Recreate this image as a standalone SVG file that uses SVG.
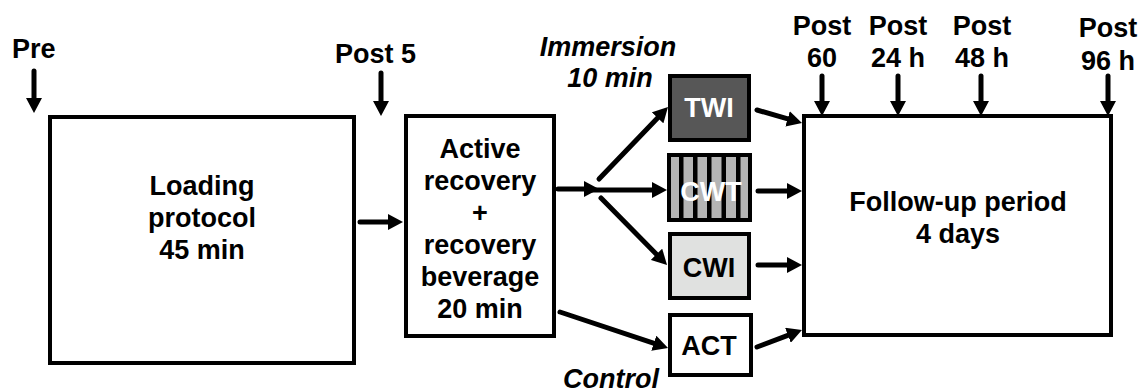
<svg xmlns="http://www.w3.org/2000/svg" width="1144" height="392" viewBox="0 0 1144 392">
<style>
text{font-family:"Liberation Sans",Arial,sans-serif;font-weight:bold;font-size:27px;fill:#000}
.c{text-anchor:middle}
.i{font-style:italic}
.w{fill:#fff}
.box{stroke:#000;stroke-width:4}
.arr{stroke:#000;stroke-width:5;stroke-linecap:round;fill:none;marker-end:url(#ah)}
</style>
<defs>
<marker id="ah" markerUnits="userSpaceOnUse" viewBox="0 0 15 16" markerWidth="15" markerHeight="16" refX="2" refY="8" orient="auto">
<path d="M0,0 L15,8 L0,16 z" fill="#000"/>
</marker>
</defs>
<rect width="1144" height="392" fill="#fff"/>
<g id="labels">
<text x="12" y="58">Pre</text>
<text x="335" y="63">Post 5</text>
<text class="c" x="822" y="35">Post</text><text class="c" x="822" y="67">60</text>
<text class="c" x="898" y="35">Post</text><text class="c" x="898" y="67">24 h</text>
<text class="c" x="982" y="35">Post</text><text class="c" x="982" y="67">48 h</text>
<text class="c" x="1108" y="37">Post</text><text class="c" x="1108" y="70">96 h</text>
<text class="c i" x="608" y="56">Immersion</text>
<text class="c i" x="610" y="87">10 min</text>
<text class="c i" x="611" y="388">Control</text>
</g>
<g id="loading">
<rect class="box" x="50" y="117" width="304" height="246" fill="#fff"/>
<text class="c" x="202" y="195">Loading</text>
<text class="c" x="202" y="227">protocol</text>
<text class="c" x="202" y="259">45 min</text>
</g>
<g id="active">
<rect class="box" x="406" y="116" width="148" height="220" fill="#fff"/>
<text class="c" x="480" y="158">Active</text>
<text class="c" x="480" y="190">recovery</text>
<text class="c" x="480" y="222">+</text>
<text class="c" x="480" y="254">recovery</text>
<text class="c" x="480" y="286">beverage</text>
<text class="c" x="480" y="318">20 min</text>
</g>
<g id="twi">
<rect class="box" x="670" y="76" width="79" height="64" fill="#575757"/>
<text class="c w" x="709" y="117">TWI</text>
</g>
<g id="cwt">
<rect class="box" x="669" y="155" width="81" height="65" fill="#b5b5b5"/>
<g fill="#000">
<rect x="679" y="155" width="4.5" height="65"/>
<rect x="693" y="155" width="4.5" height="65"/>
<rect x="707" y="155" width="4.5" height="65"/>
<rect x="721.5" y="155" width="4.5" height="65"/>
<rect x="736" y="155" width="4.5" height="65"/>
</g>
<text class="c w" x="711" y="201">CWT</text>
</g>
<g id="cwi">
<rect class="box" x="670" y="234" width="79" height="64" fill="#e0e1e0"/>
<text class="c" x="709" y="277">CWI</text>
</g>
<g id="act">
<rect class="box" x="670" y="315" width="81" height="60" fill="#fff"/>
<text class="c" x="709" y="355">ACT</text>
</g>
<g id="followup">
<rect class="box" x="804" y="116" width="307" height="219" fill="#fff"/>
<text class="c" x="958" y="211">Follow-up period</text>
<text class="c" x="958" y="243">4 days</text>
</g>
<g id="connectors">
<line class="arr" x1="34" y1="71" x2="34" y2="100"/>
<line class="arr" x1="381" y1="73" x2="381" y2="103"/>
<line class="arr" x1="360" y1="222" x2="390" y2="222"/>
<line class="arr" x1="558" y1="189" x2="586" y2="189"/>
<line class="arr" x1="592" y1="190" x2="654" y2="190"/>
<line class="arr" x1="599" y1="179" x2="659" y2="116.4"/>
<line class="arr" x1="601" y1="198" x2="657.9" y2="255.7"/>
<line class="arr" x1="560" y1="312" x2="655.7" y2="343.9"/>
<line class="arr" x1="757" y1="110" x2="789.5" y2="119.4"/>
<line class="arr" x1="758" y1="191" x2="789" y2="191"/>
<line class="arr" x1="758" y1="265" x2="789" y2="265"/>
<line class="arr" x1="757" y1="347" x2="789.8" y2="334.6"/>
<line class="arr" x1="822" y1="76" x2="822" y2="103"/>
<line class="arr" x1="898" y1="76" x2="898" y2="103"/>
<line class="arr" x1="981" y1="76" x2="981" y2="103"/>
<line class="arr" x1="1108" y1="76" x2="1108" y2="103"/>
</g>
</svg>
